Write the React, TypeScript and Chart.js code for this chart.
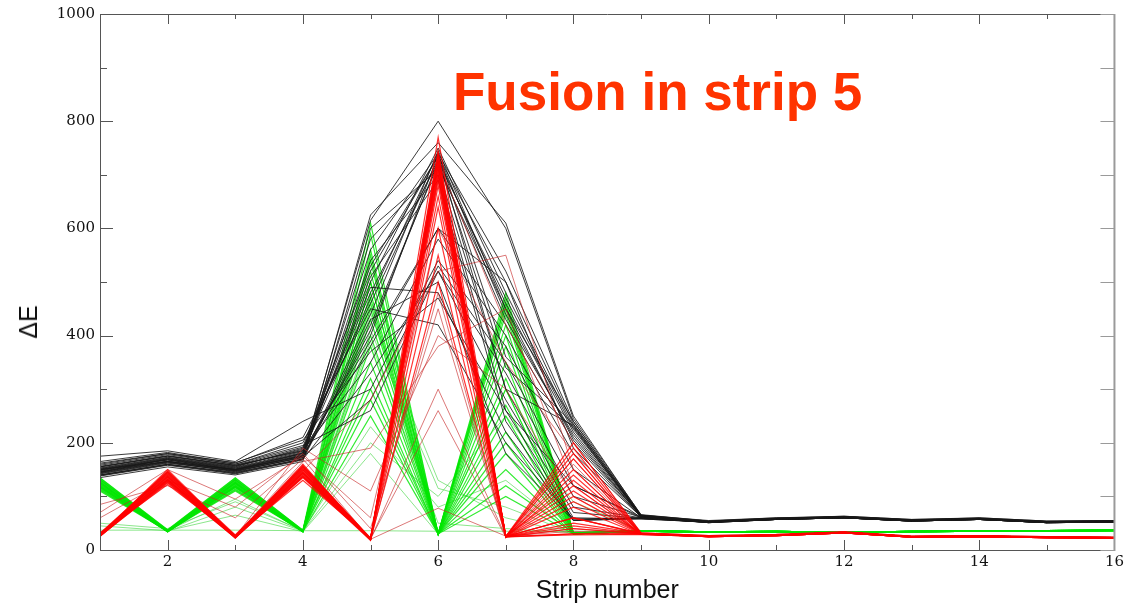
import React, { useEffect, useRef } from 'react';
import { Chart, registerables } from 'chart.js';

Chart.register(...registerables);

const strips = [1, 2, 3, 4, 5, 6, 7, 8, 9, 10, 11, 12, 13, 14, 15, 16];

const chartTitle = 'Fusion in strip 5';
const xTitle = 'Strip number';
const yTitle = 'ΔE';

const blackRuns: number[][] = [
  [150, 165, 150, 175, 625, 760, 610, 250, 65, 55, 60, 62, 56, 60, 54, 55],
  [145, 170, 152, 180, 615, 800, 600, 245, 66, 54, 59, 63, 57, 59, 53, 54],
  [140, 160, 145, 170, 560, 740, 520, 240, 64, 52, 58, 61, 55, 58, 52, 53],
  [155, 175, 158, 185, 520, 735, 500, 235, 63, 53, 58, 62, 56, 58, 53, 54],
  [148, 168, 150, 178, 500, 750, 480, 230, 62, 51, 57, 60, 54, 57, 51, 52],
  [152, 172, 155, 190, 480, 725, 470, 225, 64, 53, 59, 61, 55, 59, 52, 54],
  [160, 180, 160, 200, 460, 730, 460, 220, 63, 52, 58, 62, 56, 58, 53, 53],
  [142, 162, 148, 172, 440, 745, 450, 240, 65, 54, 60, 63, 57, 60, 54, 55],
  [138, 158, 142, 168, 420, 720, 430, 215, 62, 52, 57, 60, 54, 57, 51, 52],
  [150, 170, 153, 182, 400, 738, 440, 210, 63, 53, 58, 61, 55, 58, 52, 53],
  [146, 165, 148, 176, 380, 600, 420, 200, 61, 51, 57, 60, 54, 57, 51, 52],
  [155, 175, 157, 186, 350, 580, 400, 180, 62, 52, 58, 61, 55, 58, 52, 53],
  [175, 185, 165, 240, 300, 540, 380, 150, 60, 52, 57, 60, 54, 57, 51, 53],
  [144, 164, 146, 174, 280, 530, 350, 120, 62, 53, 58, 61, 55, 58, 52, 53],
  [158, 178, 160, 195, 260, 520, 330, 100, 61, 51, 57, 60, 54, 57, 51, 52],
  [135, 155, 140, 165, 600, 710, 300, 80, 60, 52, 57, 60, 54, 57, 51, 52],
  [150, 168, 150, 180, 540, 700, 260, 60, 58, 52, 58, 61, 55, 58, 52, 53],
  [147, 166, 149, 177, 510, 690, 240, 56, 60, 51, 57, 60, 54, 57, 51, 52],
  [153, 173, 156, 188, 490, 480, 220, 55, 58, 52, 58, 61, 55, 58, 52, 53],
  [165, 182, 162, 210, 450, 420, 200, 58, 60, 53, 58, 61, 55, 58, 52, 53],
  [140, 160, 144, 170, 430, 500, 180, 55, 59, 52, 57, 60, 54, 57, 51, 52],
  [149, 169, 151, 181, 470, 740, 360, 235, 64, 53, 58, 62, 56, 58, 53, 54],
  [143, 163, 147, 173, 410, 725, 340, 228, 63, 52, 58, 61, 55, 58, 52, 53],
  [156, 176, 158, 192, 530, 735, 300, 232, 64, 53, 59, 62, 56, 59, 53, 54],
  [151, 171, 154, 184, 390, 600, 500, 190, 62, 52, 58, 61, 55, 58, 52, 53],
  [145, 165, 150, 175, 580, 715, 450, 205, 63, 52, 58, 61, 55, 58, 52, 53],
  [162, 180, 163, 205, 370, 470, 260, 120, 60, 52, 57, 60, 54, 57, 51, 52],
  [139, 159, 143, 169, 330, 520, 280, 70, 59, 52, 57, 60, 54, 57, 51, 52],
];

const redRuns: number[][] = [
  [28, 150, 25, 160, 20, 770, 25, 200, 32, 27, 29, 34, 26, 27, 25, 24],
  [26, 145, 24, 155, 19, 740, 24, 190, 31, 26, 28, 33, 25, 26, 24, 23],
  [30, 140, 26, 150, 21, 730, 26, 180, 30, 26, 28, 33, 25, 26, 24, 23],
  [27, 138, 23, 148, 18, 720, 25, 170, 30, 25, 27, 32, 24, 25, 23, 22],
  [29, 135, 25, 145, 20, 715, 24, 150, 31, 26, 28, 33, 25, 26, 24, 23],
  [25, 132, 22, 142, 19, 710, 23, 130, 29, 25, 27, 32, 24, 25, 23, 22],
  [31, 130, 27, 140, 21, 705, 26, 120, 30, 26, 28, 33, 25, 26, 24, 23],
  [28, 128, 24, 138, 20, 700, 25, 100, 30, 25, 27, 32, 24, 25, 23, 22],
  [26, 125, 23, 135, 18, 695, 24, 80, 29, 25, 27, 32, 24, 25, 23, 22],
  [30, 122, 26, 130, 22, 690, 25, 60, 31, 26, 28, 33, 25, 26, 24, 23],
  [27, 143, 24, 152, 20, 680, 25, 40, 30, 25, 27, 32, 24, 25, 23, 22],
  [29, 137, 25, 146, 21, 660, 24, 30, 30, 26, 28, 33, 25, 26, 24, 23],
  [28, 133, 24, 144, 19, 640, 25, 50, 31, 25, 27, 32, 24, 25, 23, 22],
  [26, 127, 23, 136, 20, 600, 24, 90, 30, 26, 28, 33, 25, 26, 24, 23],
  [30, 141, 26, 158, 22, 550, 26, 110, 30, 25, 27, 32, 24, 25, 23, 22],
  [27, 136, 24, 150, 19, 500, 25, 140, 29, 26, 28, 33, 25, 26, 24, 23],
  [31, 146, 28, 154, 22, 745, 25, 30, 30, 26, 28, 33, 25, 26, 24, 23],
  [27, 129, 24, 137, 19, 735, 25, 28, 29, 25, 27, 32, 24, 25, 23, 22],
  [29, 147, 25, 156, 21, 725, 25, 45, 30, 26, 28, 33, 25, 26, 24, 23],
  [26, 131, 24, 143, 20, 720, 25, 60, 30, 25, 27, 32, 24, 25, 23, 22],
];

const redFaintRuns: number[][] = [
  [85, 120, 60, 170, 20, 480, 24, 160, 30, 26, 28, 33, 25, 26, 24, 23],
  [60, 130, 80, 180, 40, 450, 25, 170, 30, 26, 28, 33, 25, 26, 24, 23],
  [28, 139, 25, 190, 110, 400, 300, 100, 32, 27, 29, 34, 26, 27, 25, 24],
  [29, 142, 26, 165, 190, 380, 450, 120, 30, 26, 28, 33, 25, 26, 24, 23],
  [27, 134, 23, 147, 280, 520, 550, 150, 31, 26, 28, 33, 25, 26, 24, 23],
  [26, 131, 24, 143, 20, 300, 25, 60, 30, 25, 27, 32, 24, 25, 23, 22],
  [30, 144, 27, 153, 21, 260, 24, 40, 31, 26, 28, 33, 25, 26, 24, 23],
  [28, 126, 25, 139, 20, 78, 26, 35, 30, 25, 27, 32, 24, 25, 23, 22],
  [25, 148, 22, 157, 18, 725, 420, 200, 32, 27, 29, 34, 26, 27, 25, 24],
  [70, 150, 95, 175, 60, 600, 350, 180, 31, 26, 28, 33, 25, 26, 24, 23],
];

const greenRuns: number[][] = [
  [135, 38, 135, 37, 610, 30, 480, 32, 36, 34, 35, 33, 35, 36, 36, 37],
  [132, 37, 132, 36, 560, 31, 470, 31, 35, 34, 35, 33, 35, 36, 36, 37],
  [130, 36, 130, 35, 540, 30, 460, 30, 35, 33, 34, 32, 34, 35, 35, 36],
  [128, 35, 128, 34, 520, 29, 450, 31, 36, 34, 35, 33, 35, 36, 36, 37],
  [126, 34, 126, 35, 500, 30, 440, 30, 35, 33, 34, 32, 34, 35, 35, 36],
  [124, 36, 125, 36, 480, 31, 420, 32, 36, 34, 35, 33, 35, 36, 36, 37],
  [122, 35, 123, 34, 460, 30, 400, 30, 35, 33, 34, 32, 34, 35, 35, 36],
  [120, 34, 120, 35, 450, 29, 380, 31, 36, 34, 35, 33, 35, 36, 36, 37],
  [118, 36, 118, 36, 430, 30, 350, 30, 35, 33, 34, 32, 34, 35, 35, 36],
  [116, 35, 116, 35, 400, 31, 320, 31, 36, 34, 35, 33, 35, 36, 36, 37],
  [114, 34, 114, 34, 380, 30, 300, 30, 35, 33, 34, 32, 34, 35, 35, 36],
  [112, 36, 112, 36, 350, 30, 270, 32, 36, 34, 35, 33, 35, 36, 36, 37],
  [110, 35, 110, 35, 320, 29, 250, 30, 35, 33, 34, 32, 34, 35, 35, 36],
  [134, 37, 134, 37, 300, 31, 220, 31, 36, 34, 35, 33, 35, 36, 36, 37],
  [131, 36, 131, 36, 280, 30, 200, 30, 35, 33, 34, 32, 34, 35, 35, 36],
  [127, 35, 127, 35, 250, 30, 180, 31, 36, 34, 35, 33, 35, 36, 36, 37],
  [125, 34, 124, 34, 590, 30, 150, 30, 35, 33, 34, 32, 34, 35, 35, 36],
  [121, 36, 121, 36, 550, 31, 120, 32, 36, 34, 35, 33, 35, 36, 36, 37],
  [119, 35, 119, 35, 500, 30, 100, 30, 35, 33, 34, 32, 34, 35, 35, 36],
  [117, 34, 117, 34, 470, 29, 460, 31, 36, 34, 35, 33, 35, 36, 36, 37],
];

const greenFaintRuns: number[][] = [
  [115, 36, 95, 35, 440, 130, 60, 30, 35, 33, 34, 32, 34, 35, 35, 36],
  [113, 35, 80, 35, 410, 115, 80, 31, 36, 34, 35, 33, 35, 36, 36, 37],
  [45, 36, 65, 34, 390, 50, 40, 32, 36, 34, 35, 33, 35, 36, 36, 37],
  [37, 37, 37, 36, 36, 35, 35, 35, 35, 34, 35, 33, 35, 36, 36, 37],
  [129, 35, 129, 35, 200, 100, 250, 90, 36, 34, 35, 33, 35, 36, 36, 37],
  [123, 34, 122, 34, 180, 30, 300, 30, 35, 33, 34, 32, 34, 35, 35, 36],
  [50, 40, 90, 36, 230, 80, 130, 30, 35, 33, 34, 32, 34, 35, 35, 36],
];

function makeSets(runs: number[][], color: string, width: number, order: number) {
  return runs.map((run) => ({
    data: run.map((v, i) => ({ x: strips[i], y: v })),
    borderColor: color,
    borderWidth: width,
    pointRadius: 0,
    tension: 0,
    fill: false,
    order,
  }));
}

const framePlugin = {
  id: 'frameTicks',
  afterDatasetsDraw(chart: any) {
    const { ctx, chartArea: a, scales } = chart;
    const x = scales.x;
    const y = scales.y;
    ctx.save();
    ctx.lineWidth = 1;
    ctx.strokeStyle = '#555';
    ctx.beginPath();
    ctx.moveTo(a.left + 0.5, a.top + 0.5);
    ctx.lineTo(a.left + 0.5, a.bottom + 0.5);
    ctx.lineTo(a.right, a.bottom + 0.5);
    ctx.moveTo(a.left + 0.5, a.top + 0.5);
    ctx.lineTo(a.right, a.top + 0.5);
    x.ticks.forEach((t: any) => {
      const px = Math.round(x.getPixelForValue(t.value)) + 0.5;
      const len = t.value % 2 === 0 ? 10 : 5;
      ctx.moveTo(px, a.bottom);
      ctx.lineTo(px, a.bottom - len);
      ctx.moveTo(px, a.top);
      ctx.lineTo(px, a.top + len);
    });
    y.ticks.forEach((t: any) => {
      const py = Math.round(y.getPixelForValue(t.value)) + 0.5;
      const len = t.value % 200 === 0 ? 13 : 7;
      ctx.moveTo(a.left, py);
      ctx.lineTo(a.left + len, py);
    });
    ctx.stroke();
    ctx.strokeStyle = '#9a9a9a';
    ctx.beginPath();
    y.ticks.forEach((t: any) => {
      const py = Math.round(y.getPixelForValue(t.value)) + 0.5;
      ctx.moveTo(a.right, py);
      ctx.lineTo(a.right - 14, py);
    });
    ctx.stroke();
    ctx.lineWidth = 2;
    ctx.beginPath();
    ctx.moveTo(a.right, a.top);
    ctx.lineTo(a.right, a.bottom + 1);
    ctx.stroke();
    ctx.restore();
  },
};

export default function App() {
  const canvasRef = useRef<HTMLCanvasElement | null>(null);

  useEffect(() => {
    const canvas = canvasRef.current;
    if (!canvas) return;
    const datasets = [
      ...makeSets(redRuns, 'rgba(255,0,0,0.8)', 1.2, 1),
      ...makeSets(redFaintRuns, 'rgba(200,40,40,0.7)', 0.9, 2),
      ...makeSets(blackRuns, 'rgba(25,25,25,0.85)', 1, 3),
      ...makeSets(greenRuns, 'rgba(0,230,0,0.8)', 1.2, 4),
      ...makeSets(greenFaintRuns, 'rgba(70,215,70,0.7)', 0.9, 5),
    ];
    const tickFont = { family: '"DejaVu Serif", serif', size: 15 };
    const chart = new Chart(canvas, {
      type: 'line',
      data: { datasets },
      plugins: [framePlugin],
      options: {
        responsive: false,
        animation: false,
        layout: { padding: { top: 14, right: 9, left: 0, bottom: 0 } },
        plugins: { legend: { display: false }, tooltip: { enabled: false } },
        scales: {
          x: {
            type: 'linear',
            min: 1,
            max: 16,
            grid: { display: false, drawTicks: false },
            border: { display: false },
            ticks: {
              stepSize: 1,
              autoSkip: false,
              maxRotation: 0,
              padding: 3,
              color: '#111',
              font: tickFont,
              callback: (v: any) => (Number(v) % 2 === 0 ? String(v) : ''),
            },
            title: {
              display: true,
              text: xTitle,
              color: '#111',
              font: { family: '"Liberation Sans", Arial, sans-serif', size: 25 },
              padding: { top: 0, bottom: 1 },
            },
            afterFit: (s: any) => {
              s.height = 57;
            },
          },
          y: {
            type: 'linear',
            min: 0,
            max: 1000,
            grid: { display: false, drawTicks: false },
            border: { display: false },
            ticks: {
              stepSize: 100,
              autoSkip: false,
              padding: 5,
              color: '#111',
              font: tickFont,
              callback: (v: any) => (Number(v) % 200 === 0 ? String(v) : ''),
            },
            title: { display: false },
            afterFit: (s: any) => {
              s.width = 100;
            },
          },
        },
      },
    });
    return () => chart.destroy();
  }, []);

  return (
    <div style={{ position: 'fixed', left: 0, top: 0, width: 1127, height: 607, background: '#fff' }}>
      <canvas ref={canvasRef} width={1127} height={607} style={{ display: 'block' }} />
      <div
        style={{
          position: 'absolute',
          left: 453,
          top: 65,
          font: 'bold 53px "Liberation Sans", Arial, sans-serif',
          lineHeight: '53px',
          color: '#ff3300',
          whiteSpace: 'nowrap',
        }}
      >
        {chartTitle}
      </div>
      <div
        style={{
          position: 'absolute',
          left: 28,
          top: 322,
          transform: 'translate(-50%, -50%) rotate(-90deg)',
          font: '25px "Liberation Sans", Arial, sans-serif',
          lineHeight: '30px',
          color: '#111',
          whiteSpace: 'nowrap',
        }}
      >
        {yTitle}
      </div>
    </div>
  );
}
